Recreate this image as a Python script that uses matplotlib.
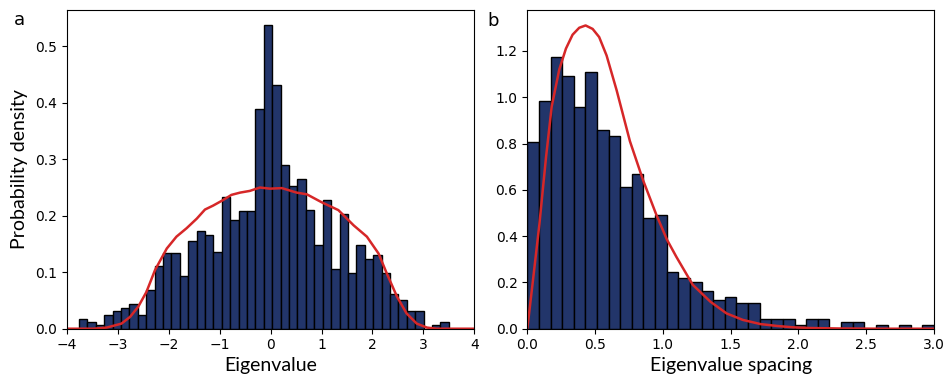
import numpy as np
import matplotlib
matplotlib.use("Agg")
from matplotlib import pyplot as plt

# panel a: eigenvalue histogram (density), 44 equal bins
eig_lo, eig_hi = -3.764, 3.498
eig_density = [0.018, 0.012, 0.006, 0.025, 0.031, 0.036, 0.043, 0.025, 0.068, 0.111,
               0.134, 0.134, 0.093, 0.155, 0.173, 0.166, 0.136, 0.234, 0.192, 0.209,
               0.209, 0.389, 0.537, 0.432, 0.290, 0.253, 0.265, 0.210, 0.149, 0.228,
               0.105, 0.204, 0.099, 0.149, 0.124, 0.130, 0.099, 0.062, 0.050, 0.031,
               0.031, 0.0, 0.006, 0.012]
eig_curve_x = [-4.0, -3.48, -3.22, -2.93, -2.76, -2.60, -2.44, -2.27, -2.04, -1.85,
               -1.65, -1.45, -1.29, -1.13, -0.93, -0.77, -0.60, -0.41, -0.21, -0.01,
               0.22, 0.51, 0.71, 1.00, 1.33, 1.63, 1.89, 2.12, 2.28, 2.48,
               2.67, 2.87, 3.07, 3.26, 4.0]
eig_curve_y = [0.0, 0.0, 0.002, 0.009, 0.021, 0.039, 0.065, 0.104, 0.142, 0.163,
               0.178, 0.195, 0.211, 0.218, 0.228, 0.237, 0.241, 0.244, 0.250, 0.248,
               0.249, 0.241, 0.238, 0.224, 0.210, 0.183, 0.163, 0.133, 0.098, 0.057,
               0.027, 0.009, 0.002, 0.0, 0.0]

# panel b: spacing histogram, 35 bins over [0, 3]
sp_lo, sp_hi = 0.0, 3.0
sp_density = [0.806, 0.984, 1.174, 1.092, 0.957, 1.108, 0.860, 0.833, 0.614, 0.669,
              0.478, 0.491, 0.245, 0.219, 0.203, 0.164, 0.122, 0.138, 0.109, 0.109,
              0.042, 0.042, 0.042, 0.014, 0.042, 0.042, 0.0, 0.028, 0.028, 0.0,
              0.014, 0.0, 0.014, 0.0, 0.014]
sp_curve_x = [0.0, 0.04, 0.089, 0.138, 0.18, 0.236, 0.285, 0.334, 0.383, 0.43,
              0.482, 0.53, 0.585, 0.659, 0.757, 0.855, 0.95, 1.03, 1.10, 1.22,
              1.35, 1.47, 1.59, 1.72, 1.84, 1.96, 2.08, 2.3, 2.6, 3.0]
sp_curve_y = [0.0, 0.20, 0.45, 0.74, 0.96, 1.12, 1.21, 1.27, 1.30, 1.31,
              1.295, 1.26, 1.18, 1.03, 0.81, 0.64, 0.495, 0.385, 0.31, 0.19,
              0.117, 0.066, 0.038, 0.020, 0.012, 0.006, 0.003, 0.001, 0.0, 0.0]

bar_color = '#22356a'
line_color = '#d62728'
label_font = ['Lato', 'DejaVu Sans']

fig = plt.figure(figsize=(9.46, 3.77), dpi=100)
ax1 = fig.add_axes([0.0708, 0.1281, 0.4306, 0.8446])
ax2 = fig.add_axes([0.5574, 0.1281, 0.4299, 0.8446])

edges = np.linspace(eig_lo, eig_hi, len(eig_density) + 1)
ax1.bar(edges[:-1], eig_density, width=np.diff(edges), align='edge',
        color=bar_color, edgecolor='black', linewidth=1)
ax1.plot(eig_curve_x, eig_curve_y, color=line_color, linewidth=1.8)
ax1.set_xlim(-4, 4)
ax1.set_xticks(np.arange(-4, 5, 1))
ax1.set_yticks(np.arange(0, 0.51, 0.1))
ax1.set_xlabel('Eigenvalue', family=label_font, fontsize=14, labelpad=3)
ax1.set_ylabel('Probability density', family=label_font, fontsize=14, labelpad=5)

edges = np.linspace(sp_lo, sp_hi, len(sp_density) + 1)
ax2.bar(edges[:-1], sp_density, width=np.diff(edges), align='edge',
        color=bar_color, edgecolor='black', linewidth=1)
ax2.plot(sp_curve_x, sp_curve_y, color=line_color, linewidth=1.8)
ax2.set_xlim(0, 3)
ax2.set_xticks(np.arange(0, 3.01, 0.5))
ax2.set_yticks(np.arange(0, 1.21, 0.2))
ax2.set_xlabel('Eigenvalue spacing', family=label_font, fontsize=14, labelpad=3)

fig.text(0.021, 0.947, 'a', fontsize=13, ha='center', va='center')
fig.text(0.521, 0.943, 'b', fontsize=13, ha='center', va='center')

fig.savefig('out.png', dpi=100)
